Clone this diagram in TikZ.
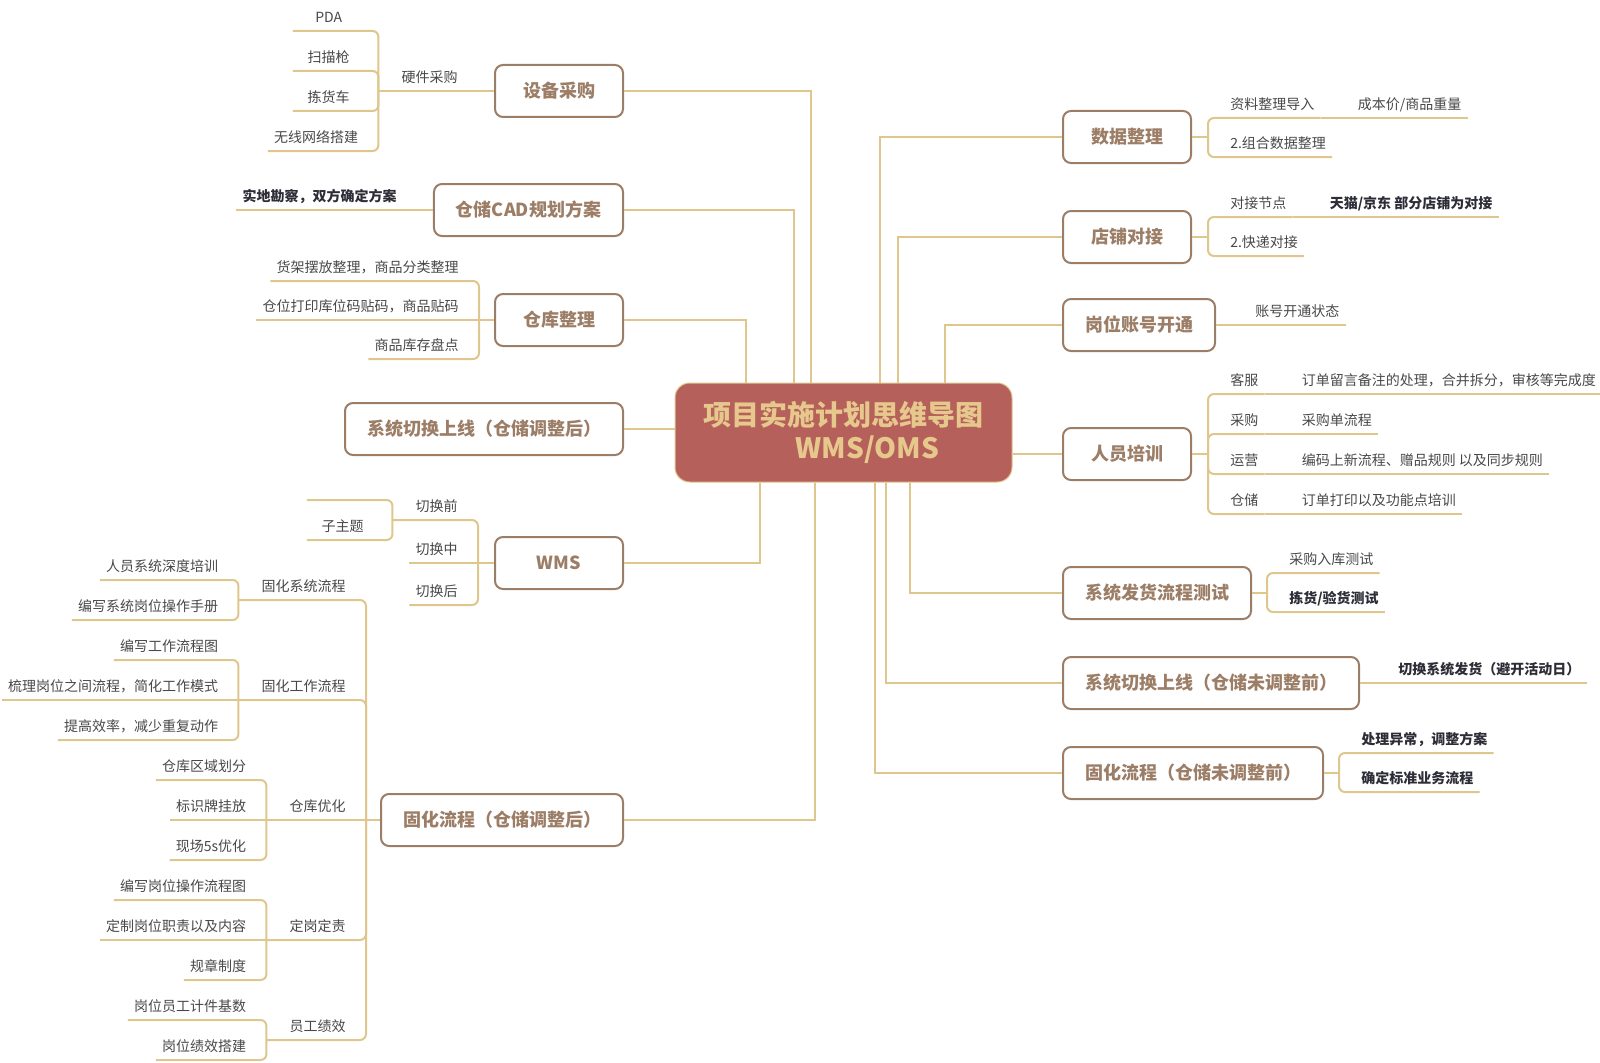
\documentclass[tikz,border=0pt]{standalone}
\usepackage{fontspec}
\setmainfont{Noto Sans CJK SC}
\usepackage{tikz}
\usetikzlibrary{calc}

\definecolor{linea}{RGB}{222,198,140}
\definecolor{marron}{RGB}{156,125,102}
\definecolor{rojo}{RGB}{182,96,92}
\definecolor{dorado}{RGB}{230,200,140}
\definecolor{texto}{RGB}{72,72,72}
\definecolor{oscuro}{RGB}{45,45,55}

\tikzset{
  rama/.style={draw=linea, line width=1.5pt, rounded corners=4.5pt},
  tronco/.style={draw=linea, line width=1.5pt},
  tema/.style={draw=marron, line width=1.5pt, rounded corners=6pt, fill=white, text=marron,
    font=\fontsize{13.5pt}{16pt}\selectfont\bfseries, minimum width=96pt, minimum height=39pt, inner xsep=16.5pt},
  centro/.style={draw=linea, line width=0.75pt, rounded corners=11pt, fill=rojo, text=dorado, align=center,
    font=\fontsize{21pt}{24.75pt}\selectfont\bfseries, minimum width=252.75pt, minimum height=74.25pt},
  hojaD/.style={anchor=south west, inner xsep=4.5pt, inner ysep=4.5pt, text height=8pt, text depth=1.5pt,
    text=texto, font=\fontsize{10.5pt}{12pt}\selectfont},
  hojaI/.style={hojaD, anchor=south east},
  negrita/.style={font=\fontsize{10.5pt}{12pt}\selectfont\bfseries, text=oscuro},
  corta/.style={minimum width=53.25pt},
}

\begin{document}
\begin{tikzpicture}[x=0.75pt, y=-0.75pt]
\useasboundingbox (0,0) rectangle (1600,1063);

% Dibujar el tema central
\node[centro] (centro) at (843.5,432.5) {项目实施计划思维导图\\\hspace*{36pt}WMS/OMS};

% Dibujar los temas de la izquierda
\node[tema, anchor=east] (sb) at (624,91) {设备采购};
\node[tema, anchor=east] (cad) at (624,210) {仓储CAD规划方案};
\node[tema, anchor=east] (ck) at (624,320) {仓库整理};
\node[tema, anchor=east] (xsh) at (624,429) {系统切换上线（仓储调整后）};
\node[tema, anchor=east] (wms) at (624,563) {WMS};
\node[tema, anchor=east] (gh) at (624,820) {固化流程（仓储调整后）};

% Dibujar los temas de la derecha
\node[tema, anchor=west] (sj) at (1062,137) {数据整理};
\node[tema, anchor=west] (dp) at (1062,237) {店铺对接};
\node[tema, anchor=west] (gw) at (1062,325) {岗位账号开通};
\node[tema, anchor=west] (ry) at (1062,454) {人员培训};
\node[tema, anchor=west] (fh) at (1062,593) {系统发货流程测试};
\node[tema, anchor=west] (xw) at (1062,683) {系统切换上线（仓储未调整前）};
\node[tema, anchor=west] (gl) at (1062,773) {固化流程（仓储未调整前）};

% Dibujar los troncos
\draw[tronco] (sb.east) -| ($(centro.north)+(-32.5,0)$);
\draw[tronco] (cad.east) -| ($(centro.north)+(-49.5,0)$);
\draw[tronco] (ck.east) -| ($(centro.north)+(-97.5,0)$);
\draw[tronco] (xsh.east) -- (xsh.east -| centro.west);
\draw[tronco] (wms.east) -| ($(centro.south)+(-83.5,0)$);
\draw[tronco] (gh.east) -| ($(centro.south)+(-28.5,0)$);
\draw[tronco] (sj.west) -| ($(centro.north)+(36.5,0)$);
\draw[tronco] (dp.west) -| ($(centro.north)+(54.5,0)$);
\draw[tronco] (gw.west) -| ($(centro.north)+(101.5,0)$);
\draw[tronco] (ry.west) -- (ry.west -| centro.east);
\draw[tronco] (fh.west) -| ($(centro.south)+(66.5,0)$);
\draw[tronco] (xw.west) -| ($(centro.south)+(42.5,0)$);
\draw[tronco] (gl.west) -| ($(centro.south)+(31.5,0)$);

% Dibujar las ramas de 设备采购
\node[hojaI] (hw) at ($(sb.west)+(-30,0)$) {硬件采购};
\coordinate (hwB) at ($(hw.south west)+(-17,0)$);
\node[hojaI, corta] (pda) at ($(hwB)+(-14,-60)$) {PDA};
\node[hojaI, corta] (smq) at ($(hwB)+(-14,-20)$) {扫描枪};
\node[hojaI, corta] (jhc) at ($(hwB)+(-14,20)$) {拣货车};
\node[hojaI, corta] (wx) at ($(hwB)+(-14,60)$) {无线网络搭建};
\draw[rama] (sb.west) -- (hwB);
\draw[rama] (hwB) |- (pda.south west);
\draw[rama] (hwB) |- (smq.south west);
\draw[rama] (hwB) |- (jhc.south west);
\draw[rama] (hwB) |- (wx.south west);

% Dibujar las ramas de 仓储CAD规划方案
\node[hojaI, negrita] (sdkc) at ($(cad.west)+(-30,0)$) {实地勘察，双方确定方案};
\draw[rama] (cad.west) -- (sdkc.south west);

% Dibujar las ramas de 仓库整理
\coordinate (ckB) at ($(ck.west)+(-15,0)$);
\node[hojaI] (hjbf) at ($(ckB)+(-14,-39)$) {货架摆放整理，商品分类整理};
\node[hojaI] (cwdy) at ($(ckB)+(-14,0)$) {仓位打印库位码贴码，商品贴码};
\node[hojaI] (spkc) at ($(ckB)+(-14,39)$) {商品库存盘点};
\draw[rama] (ck.west) -- (ckB);
\draw[rama] (ckB) |- (hjbf.south west);
\draw[rama] (ckB) -- (cwdy.south west);
\draw[rama] (ckB) |- (spkc.south west);

% Dibujar las ramas de WMS
\coordinate (wmsB) at ($(wms.west)+(-16,0)$);
\node[hojaI] (qhq) at ($(wmsB)+(-14,-43)$) {切换前};
\coordinate (qhqB) at ($(qhq.south west)+(-17,0)$);
\node[hojaI, corta] (vacio) at ($(qhqB)+(-14,-20)$) {};
\node[hojaI, corta] (zzt) at ($(qhqB)+(-14,20)$) {子主题};
\node[hojaI] (qhz) at ($(wmsB)+(-14,0)$) {切换中};
\node[hojaI] (qhh) at ($(wmsB)+(-14,42)$) {切换后};
\draw[rama] (wms.west) -- (wmsB);
\draw[rama] (wmsB) |- (qhqB);
\draw[rama] (qhqB) |- (vacio.south west);
\draw[rama] (qhqB) |- (zzt.south west);
\draw[rama] (wmsB) -- (qhz.south west);
\draw[rama] (wmsB) |- (qhh.south west);

% Dibujar las ramas de 固化流程（仓储调整后）
\coordinate (ghB) at ($(gh.west)+(-14,0)$);
\node[hojaI] (gx) at ($(ghB)+(-14,-220)$) {固化系统流程};
\node[hojaI] (gg) at ($(ghB)+(-14,-120)$) {固化工作流程};
\node[hojaI] (ky) at ($(ghB)+(-14,0)$) {仓库优化};
\node[hojaI] (dg) at ($(ghB)+(-14,120)$) {定岗定责};
\node[hojaI] (yg) at ($(ghB)+(-14,220)$) {员工绩效};
\coordinate (gxB) at ($(gx.south west)+(-17,0)$);
\coordinate (ggB) at ($(gg.south west)+(-17,0)$);
\coordinate (kyB) at ($(ky.south west)+(-17,0)$);
\coordinate (dgB) at ($(dg.south west)+(-17,0)$);
\coordinate (ygB) at ($(yg.south west)+(-17,0)$);
\draw[rama] (gh.west) -- (ghB);
\draw[rama] (ghB) |- (gxB);
\draw[rama] (ghB) |- (ggB);
\draw[rama] (ghB) -- (kyB);
\draw[rama] (ghB) |- (dgB);
\draw[rama] (ghB) |- (ygB);

\node[hojaI] (rysd) at ($(gxB)+(-14,-20)$) {人员系统深度培训};
\node[hojaI] (bxsc) at ($(gxB)+(-14,20)$) {编写系统岗位操作手册};
\draw[rama] (gxB) |- (rysd.south west);
\draw[rama] (gxB) |- (bxsc.south west);

\node[hojaI] (bxgz) at ($(ggB)+(-14,-40)$) {编写工作流程图};
\node[hojaI] (slgw) at ($(ggB)+(-14,0)$) {梳理岗位之间流程，简化工作模式};
\node[hojaI] (tgxl) at ($(ggB)+(-14,40)$) {提高效率，减少重复动作};
\draw[rama] (ggB) |- (bxgz.south west);
\draw[rama] (ggB) -- (slgw.south west);
\draw[rama] (ggB) |- (tgxl.south west);

\node[hojaI] (ckqy) at ($(kyB)+(-14,-40)$) {仓库区域划分};
\node[hojaI] (bspg) at ($(kyB)+(-14,0)$) {标识牌挂放};
\node[hojaI] (xc5s) at ($(kyB)+(-14,40)$) {现场5s优化};
\draw[rama] (kyB) |- (ckqy.south west);
\draw[rama] (kyB) -- (bspg.south west);
\draw[rama] (kyB) |- (xc5s.south west);

\node[hojaI] (bxgw) at ($(dgB)+(-14,-40)$) {编写岗位操作流程图};
\node[hojaI] (dzgw) at ($(dgB)+(-14,0)$) {定制岗位职责以及内容};
\node[hojaI] (gzzd) at ($(dgB)+(-14,40)$) {规章制度};
\draw[rama] (dgB) |- (bxgw.south west);
\draw[rama] (dgB) -- (dzgw.south west);
\draw[rama] (dgB) |- (gzzd.south west);

\node[hojaI] (gwjs) at ($(ygB)+(-14,-20)$) {岗位员工计件基数};
\node[hojaI] (gwjx) at ($(ygB)+(-14,20)$) {岗位绩效搭建};
\draw[rama] (ygB) |- (gwjs.south west);
\draw[rama] (ygB) |- (gwjx.south west);

% Dibujar las ramas de 数据整理
\coordinate (sjB) at ($(sj.east)+(16,0)$);
\node[hojaD] (zl) at ($(sjB)+(16,-19)$) {资料整理导入};
\node[hojaD] (cbj) at ($(zl.south east)+(31,0)$) {成本价/商品重量};
\node[hojaD] (zh) at ($(sjB)+(16,20)$) {2.组合数据整理};
\draw[rama] (sj.east) -- (sjB);
\draw[rama] (sjB) |- (zl.south east);
\draw[rama] (zl.south east) -- (cbj.south east);
\draw[rama] (sjB) |- (zh.south east);

% Dibujar las ramas de 店铺对接
\coordinate (dpB) at ($(dp.east)+(16,0)$);
\node[hojaD] (djjd) at ($(dpB)+(16,-20)$) {对接节点};
\node[hojaD, negrita] (tmjd) at ($(djjd.south east)+(31,0)$) {天猫/京东 部分店铺为对接};
\node[hojaD] (kddj) at ($(dpB)+(16,19)$) {2.快递对接};
\draw[rama] (dp.east) -- (dpB);
\draw[rama] (dpB) |- (djjd.south east);
\draw[rama] (djjd.south east) -- (tmjd.south east);
\draw[rama] (dpB) |- (kddj.south east);

% Dibujar las ramas de 岗位账号开通
\node[hojaD] (zhkt) at ($(gw.east)+(33,0)$) {账号开通状态};
\draw[rama] (gw.east) -- (zhkt.south east);

% Dibujar las ramas de 人员培训
\coordinate (ryB) at ($(ry.east)+(16,0)$);
\node[hojaD] (kf) at ($(ryB)+(16,-60)$) {客服};
\node[hojaD] (cg) at ($(ryB)+(16,-20)$) {采购};
\node[hojaD] (yy) at ($(ryB)+(16,20)$) {运营};
\node[hojaD] (cc) at ($(ryB)+(16,60)$) {仓储};
\node[hojaD] (ddly) at ($(kf.south east)+(31,0)$) {订单留言备注的处理，合并拆分，审核等完成度};
\node[hojaD] (cgd) at ($(cg.south east)+(31,0)$) {采购单流程};
\node[hojaD] (bmsx) at ($(yy.south east)+(31,0)$) {编码上新流程、赠品规则 以及同步规则};
\node[hojaD] (dddy) at ($(cc.south east)+(31,0)$) {订单打印以及功能点培训};
\draw[rama] (ry.east) -- (ryB);
\draw[rama] (ryB) |- (kf.south east);
\draw[rama] (ryB) |- (cg.south east);
\draw[rama] (ryB) |- (yy.south east);
\draw[rama] (ryB) |- (cc.south east);
\draw[rama] (kf.south east) -- (ddly.south east);
\draw[rama] (cg.south east) -- (cgd.south east);
\draw[rama] (yy.south east) -- (bmsx.south east);
\draw[rama] (cc.south east) -- (dddy.south east);

% Dibujar las ramas de 系统发货流程测试
\coordinate (fhB) at ($(fh.east)+(15,0)$);
\node[hojaD] (cgrk) at ($(fhB)+(16,-20)$) {采购入库测试};
\node[hojaD, negrita] (jhyh) at ($(fhB)+(16,19)$) {拣货/验货测试};
\draw[rama] (fh.east) -- (fhB);
\draw[rama] (fhB) |- (cgrk.south east);
\draw[rama] (fhB) |- (jhyh.south east);

% Dibujar las ramas de 系统切换上线（仓储未调整前）
\node[hojaD, negrita] (qhfh) at ($(xw.east)+(32,0)$) {切换系统发货（避开活动日）};
\draw[rama] (xw.east) -- (qhfh.south east);

% Dibujar las ramas de 固化流程（仓储未调整前）
\coordinate (glB) at ($(gl.east)+(15,0)$);
\node[hojaD, negrita] (clyc) at ($(glB)+(16,-20)$) {处理异常，调整方案};
\node[hojaD, negrita] (qdbz) at ($(glB)+(16,19)$) {确定标准业务流程};
\draw[rama] (gl.east) -- (glB);
\draw[rama] (glB) |- (clyc.south east);
\draw[rama] (glB) |- (qdbz.south east);

\end{tikzpicture}
\end{document}
